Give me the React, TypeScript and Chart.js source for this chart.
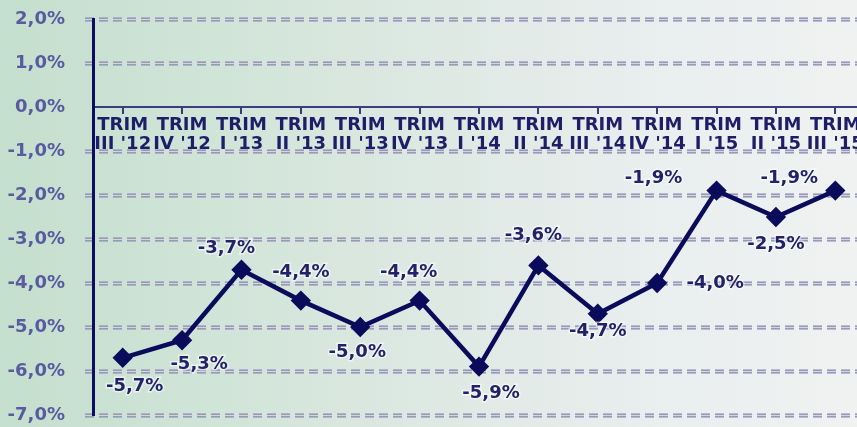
import React, { useEffect, useRef } from 'react';
import { Chart, registerables } from 'chart.js';
Chart.register(...registerables);

const quarters = ["III '12", "IV '12", "I '13", "II '13", "III '13", "IV '13", "I '14", "II '14", "III '14", "IV '14", "I '15", "II '15", "III '15"];
const values = [-5.7, -5.3, -3.7, -4.4, -5.0, -4.4, -5.9, -3.6, -4.7, -4.0, -1.9, -2.5, -1.9];
const yMin = -7;
const yMax = 2;
const yStep = 1;

// label placement relative to each point (style only)
const labelOffsets: [number, number][] = [
  [12, 29], [17, 24], [-15, -21], [0, -28], [-3, 25], [-11, -28], [12, 27],
  [-5, -30], [0, 18], [58, 0], [-63, -12], [0, 27], [-46, -12],
];

const fmt = (v: number) => v.toFixed(1).replace('.', ',') + '%';
const FONT = '"DejaVu Sans", Verdana, sans-serif';

const gridPlugin = {
  id: 'dashGrid',
  beforeDraw(chart: any) {
    const { ctx, chartArea, scales } = chart;
    const y = scales.y;
    ctx.save();
    y.ticks.forEach((t: any) => {
      if (t.value === 0) return;
      const py = Math.round(y.getPixelForValue(t.value)) + 0.5;
      ctx.setLineDash([9, 5]);
      ctx.beginPath();
      ctx.moveTo(chartArea.left - 8, py);
      ctx.lineTo(chartArea.right + 20, py);
      ctx.strokeStyle = '#8686ac';
      ctx.lineWidth = 4;
      ctx.stroke();
      ctx.strokeStyle = '#d4d4e2';
      ctx.lineWidth = 1.5;
      ctx.stroke();
    });
    ctx.restore();
  },
};

const labelPlugin = {
  id: 'valueLabels',
  afterDatasetsDraw(chart: any) {
    const { ctx } = chart;
    const meta = chart.getDatasetMeta(0);
    ctx.save();
    ctx.font = `bold 18px ${FONT}`;
    ctx.textAlign = 'center';
    ctx.textBaseline = 'middle';
    meta.data.forEach((el: any, i: number) => {
      const [dx, dy] = labelOffsets[i] || [0, -20];
      const x = el.x + dx;
      const yy = el.y + dy;
      const txt = fmt(values[i]);
      ctx.lineWidth = 3;
      ctx.strokeStyle = 'rgba(255,255,255,0.55)';
      ctx.strokeText(txt, x, yy);
      ctx.fillStyle = '#22226a';
      ctx.fillText(txt, x, yy);
    });
    ctx.restore();
  },
};

export default function App() {
  const ref = useRef<HTMLCanvasElement>(null);
  useEffect(() => {
    document.body.style.margin = '0';
    document.body.style.overflow = 'hidden';
    if (!ref.current) return;
    const chart = new Chart(ref.current, {
      type: 'line',
      data: {
        labels: quarters.map((q) => ['TRIM', q]),
        datasets: [
          {
            data: values,
            borderColor: '#0b0b5c',
            backgroundColor: '#0b0b5c',
            borderWidth: 4.5,
            pointStyle: 'rectRot',
            pointRadius: 7,
            pointBackgroundColor: '#0b0b5c',
            pointBorderColor: '#0b0b5c',
            tension: 0,
          },
        ],
      },
      options: {
        responsive: false,
        animation: false,
        layout: { autoPadding: false, padding: { top: 19, bottom: 12, left: 0, right: 5 } },
        plugins: { legend: { display: false }, tooltip: { enabled: false } },
        scales: {
          x: {
            type: 'category',
            position: { y: 0 } as any,
            offset: true,
            afterFit: (s: any) => {
              s.height = 0;
              s.paddingTop = 0;
              s.paddingBottom = 0;
              s.paddingLeft = 0;
              s.paddingRight = 0;
            },
            grid: {
              display: true,
              drawOnChartArea: false,
              drawTicks: true,
              tickLength: 6,
              color: '#3a3a7a',
              lineWidth: 2,
            },
            border: { display: true, color: '#3c3c82', width: 2 },
            ticks: {
              autoSkip: false,
              maxRotation: 0,
              minRotation: 0,
              padding: 2,
              color: '#1e1e68',
              font: { family: FONT, weight: 'bold', size: 18, lineHeight: 1.1 },
            },
          },
          y: {
            min: yMin,
            max: yMax,
            afterFit: (s: any) => {
              s.width = 93;
              s.paddingTop = 0;
              s.paddingBottom = 0;
            },
            grid: { display: false },
            border: { display: true, color: '#0c0c60', width: 3 },
            ticks: {
              stepSize: yStep,
              padding: 20,
              color: '#5a5aa0',
              font: { family: FONT, weight: 'bold', size: 18 },
              callback: (v: any) => fmt(Number(v)),
            },
          },
        },
      },
      plugins: [gridPlugin, labelPlugin],
    });
    return () => chart.destroy();
  }, []);
  return (
    <div
      style={{
        width: 870,
        height: 427,
        background: 'linear-gradient(90deg, #c4dfcd 0%, #d9e7df 40%, #e9eeee 75%, #f1f2f2 100%)',
      }}
    >
      <canvas ref={ref} width={870} height={427} style={{ display: 'block' }} />
    </div>
  );
}
